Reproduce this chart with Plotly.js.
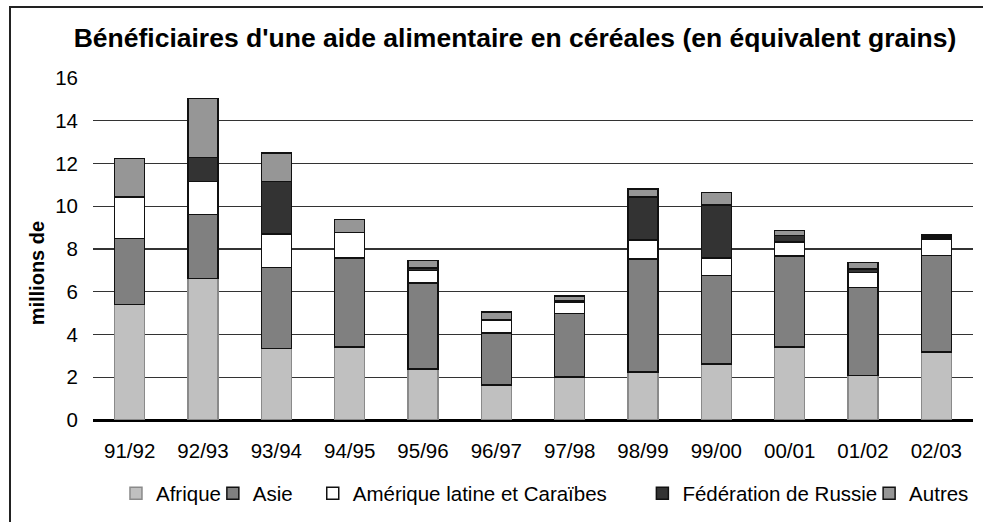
<!DOCTYPE html>
<html>
<head>
<meta charset="utf-8">
<script src="https://cdn.plot.ly/plotly-3.0.1.min.js"></script>
<style>
  html, body { margin: 0; padding: 0; background: #fff; overflow: hidden; }
  #wrap { position: relative; width: 983px; height: 522px; overflow: hidden; }
  #frame { position: absolute; left: 9px; top: 6px; width: 1100px; height: 700px; border: 2px solid #222; box-sizing: border-box; pointer-events: none; z-index: 5; }
  #chart { position: absolute; left: 0; top: 0; width: 983px; height: 522px; }
</style>
</head>
<body>
<div id="wrap">
  <div id="chart"></div>
  <div id="frame"></div>
</div>
<script>
const categories = ["91/92", "92/93", "93/94", "94/95", "95/96", "96/97", "97/98", "98/99", "99/00", "00/01", "01/02", "02/03"];
const afrique = [5.40, 6.63, 3.35, 3.42, 2.38, 1.64, 2.01, 2.24, 2.61, 3.42, 2.09, 3.18];
const asie    = [3.10, 2.99, 3.79, 4.15, 4.02, 2.44, 2.97, 5.29, 4.16, 4.25, 4.11, 4.52];
const amLat   = [1.94, 1.53, 1.56, 1.21, 0.60, 0.59, 0.54, 0.88, 0.80, 0.66, 0.71, 0.77];
const russie  = [0.00, 1.14, 2.46, 0.00, 0.10, 0.00, 0.08, 2.02, 2.49, 0.31, 0.15, 0.08];
const autres  = [1.80, 2.75, 1.33, 0.60, 0.37, 0.38, 0.21, 0.38, 0.59, 0.22, 0.31, 0.10];
const seriesNames = ["Afrique", "Asie", "Amérique latine et Caraïbes", "Fédération de Russie", "Autres"];
const yTickVals = [0, 2, 4, 6, 8, 10, 12, 14, 16];
const titleText = "Bénéficiaires d'une aide alimentaire en céréales (en équivalent grains)";
const yTitleText = "millions de";

const W = 983, H = 522;
const mL = 93, mR = 9, mT = 78, mB = 99;
const pw = W - mL - mR, ph = H - mT - mB;
const px2x = p => (p - mL) / pw;
const py2y = p => (H - mB - p) / ph;

const fills = ["#c0c0c0", "#808080", "#ffffff", "#333333", "#969696"];
const lines = ["#8a8a8a", "#111111", "#111111", "#111111", "#111111"];
const data = [afrique, asie, amLat, russie, autres];
const legendIds = ["legend", "legend2", "legend3", "legend4", "legend5"];
const legendLeft = [116, 213, 313, 643, 870];

const traces = data.map((vals, i) => ({
  type: "bar",
  name: seriesNames[i],
  x: categories,
  y: vals,
  marker: { color: fills[i], line: { color: lines[i], width: 1.5 } },
  legend: legendIds[i],
  hoverinfo: "x+y+name"
}));

const layout = {
  width: W, height: H,
  margin: { l: mL, r: mR, t: mT, b: mB, pad: 0 },
  paper_bgcolor: "#ffffff",
  plot_bgcolor: "#ffffff",
  barmode: "stack",
  bargap: 0.59,
  font: { family: "Arial, 'Liberation Sans', sans-serif", color: "#000", size: 20 },
  title: {
    text: "<b>" + titleText + "</b>",
    font: { size: 26.5, family: "Arial, 'Liberation Sans', sans-serif", color: "#000" },
    x: 515 / W, xref: "container", xanchor: "center",
    y: 1 - 38 / H, yref: "container", yanchor: "middle"
  },
  xaxis: {
    type: "category",
    showgrid: false,
    showline: true, linecolor: "#000", linewidth: 1.5,
    ticks: "", ticklabelstandoff: 12,
    tickfont: { size: 20.5 },
    fixedrange: true
  },
  yaxis: {
    range: [0, 16],
    tickvals: yTickVals,
    showgrid: true, gridcolor: "#333", gridwidth: 1.2,
    zeroline: true, zerolinecolor: "#000", zerolinewidth: 1.5,
    showline: false,
    ticks: "", ticklabelstandoff: 14,
    tickfont: { size: 20.5 },
    fixedrange: true
  },
  annotations: [{
    text: "<b>" + yTitleText + "</b>",
    textangle: -90,
    xref: "paper", yref: "paper",
    x: px2x(37), y: py2y(275),
    xanchor: "center", yanchor: "middle",
    showarrow: false,
    font: { size: 20, color: "#000" }
  }],
  showlegend: true
};

legendIds.forEach((id, i) => {
  layout[id] = {
    orientation: "h",
    x: px2x(legendLeft[i]), xanchor: "left",
    y: py2y(497), yanchor: "middle",
    bgcolor: "rgba(0,0,0,0)",
    borderwidth: 0,
    font: { size: 20.5, color: "#000" },
    itemwidth: 30,
    itemclick: false, itemdoubleclick: false
  };
});

Plotly.newPlot("chart", traces, layout, { displayModeBar: false, staticPlot: true });
</script>
</body>
</html>
